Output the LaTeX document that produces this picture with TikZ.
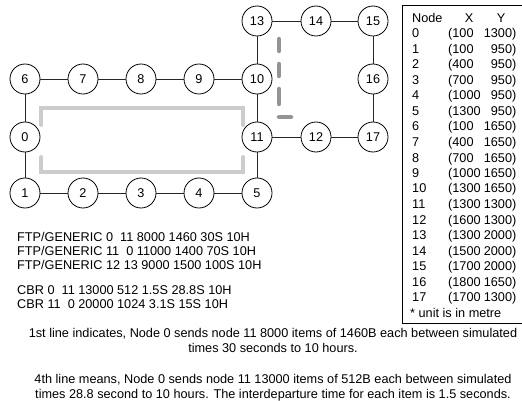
\documentclass[tikz,border=0pt]{standalone}
\usepackage{fontspec}
\setmainfont{Liberation Sans}
\begin{document}
\begin{tikzpicture}[x=1pt,y=-1pt,
  nd/.style={circle,draw=black,line width=0.8pt,minimum size=30pt,inner sep=0pt,font=\fontsize{12.7}{14}\selectfont},
  ln/.style={line width=0.8pt,draw=black!85},
  txt/.style={anchor=base west,inner sep=0pt,font=\fontsize{12.7}{14}\selectfont},
  ctxt/.style={anchor=base,inner sep=0pt,font=\fontsize{12.7}{14}\selectfont},
  rtxt/.style={anchor=base east,inner sep=0pt,font=\fontsize{12.7}{14}\selectfont},
  bracket/.style={line width=4pt,draw=black!20,line cap=round},
  dashgray/.style={line width=4.5pt,draw=black!42,line cap=round}]
\useasboundingbox (0,0) rectangle (522,401);
% brackets
\draw[bracket] (41,125)--(41,108)--(243,108)--(243,125);
\draw[bracket] (41,157)--(41,172)--(243,172)--(243,157);
\draw[dashgray] (279,39)--(279,51);
\draw[dashgray] (279,64)--(279,76);
\draw[dashgray] (279,89)--(279,104);
\draw[dashgray] (279,117)--(291,117);
% nodes
\node[nd] (n6) at (25,79) {6};
\node[nd] (n7) at (83,79) {7};
\node[nd] (n8) at (141,79) {8};
\node[nd] (n9) at (199,79) {9};
\node[nd] (n10) at (257,79) {10};
\node[nd] (n0) at (25,137) {0};
\node[nd] (n11) at (257,137) {11};
\node[nd] (n12) at (316,137) {12};
\node[nd] (n17) at (373,137) {17};
\node[nd] (n1) at (25,193) {1};
\node[nd] (n2) at (83,193) {2};
\node[nd] (n3) at (141,193) {3};
\node[nd] (n4) at (199,193) {4};
\node[nd] (n5) at (257,193) {5};
\node[nd] (n13) at (257,21) {13};
\node[nd] (n14) at (316,21) {14};
\node[nd] (n15) at (373,21) {15};
\node[nd] (n16) at (373,79) {16};
% links
\foreach \a/\b in {n6/n7,n7/n8,n8/n9,n9/n10,n10/n13,n13/n14,n14/n15,n15/n16,n16/n17,n17/n12,n12/n11,n11/n10,n11/n5,n5/n4,n4/n3,n3/n2,n2/n1,n1/n0,n0/n6}
  \draw[ln] (\a)--(\b);
% table
\draw[line width=0.8pt] (524,5)--(402,5)--(402,323)--(524,323);
\node[txt] (th) at (412,22.5) {Node};
\node[ctxt] (thx) at (469,22.5) {X};
\node[ctxt] (thy) at (501,22.5) {Y};
\foreach \i/\xv/\yv in {0/100/1300,1/100/950,2/400/950,3/700/950,4/1000/950,5/1300/950,6/100/1650,7/400/1650,8/700/1650,9/1000/1650,10/1300/1650,11/1300/1300,12/1600/1300,13/1300/2000,14/1500/2000,15/1700/2000,16/1800/1650,17/1700/1300}{
  \node[txt] (r\i) at (412,38+15.5*\i) {\i};
  \node[txt] (rx\i) at (448,38+15.5*\i) {(\xv};
  \node[rtxt] (ry\i) at (516.5,38+15.5*\i) {\yv)};
}
\node[txt] (unit) at (410,317) {* unit is in metre};
% traffic lines
\node[txt] (f1) at (17,241.5) {FTP/GENERIC 0\ \ 11 8000 1460 30S 10H};
\node[txt] (f2) at (17,255.5) {FTP/GENERIC 11\ \ 0 11000 1400 70S 10H};
\node[txt] (f3) at (17,269.5) {FTP/GENERIC 12 13 9000 1500 100S 10H};
\node[txt] (c1) at (17,294.5) {CBR 0\ \ 11 13000 512 1.5S 28.8S 10H};
\node[txt] (c2) at (17,308.5) {CBR 11\ \ 0 20000 1024 3.1S 15S 10H};
% explanations
\node[ctxt] (e1) at (273,337.5) {1st line indicates, Node 0 sends node 11 8000 items of 1460B each between simulated};
\node[ctxt] (e2) at (273,352.5) {times 30 seconds to 10 hours.};
\node[ctxt] (e3) at (273,383.5) {4th line means, Node 0 sends node 11 13000 items of 512B each between simulated};
\node[ctxt] (e4) at (273,398.5) {times 28.8 second to 10 hours. The interdeparture time for each item is 1.5 seconds.};
\end{tikzpicture}
\end{document}
